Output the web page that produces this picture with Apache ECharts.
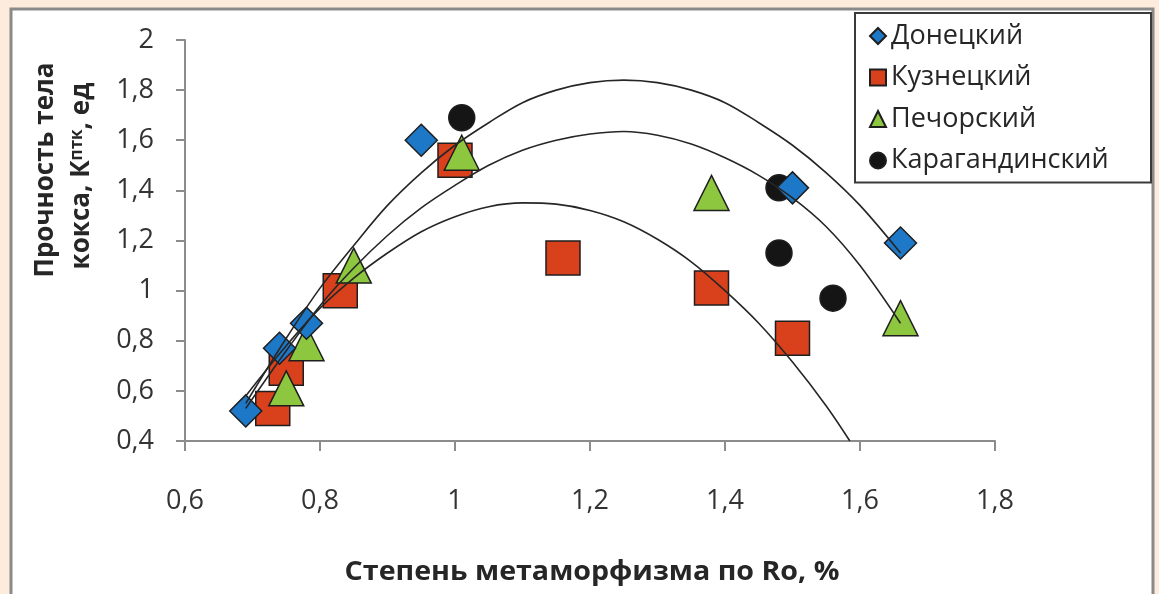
<!DOCTYPE html>
<html>
<head>
<meta charset="utf-8">
<script src="https://cdn.jsdelivr.net/npm/echarts@6/dist/echarts.min.js"></script>
<style>
  html, body { margin: 0; padding: 0; background: #fdecdc; }
  #chart { width: 1159px; height: 594px; }
</style>
</head>
<body>
<div id="chart"></div>
<script>
// --- data ---
const seriesNames = ['Донецкий', 'Кузнецкий', 'Печорский', 'Карагандинский'];

const donX = [0.69, 0.74, 0.78, 0.95, 1.50, 1.66];
const donY = [0.52, 0.77, 0.87, 1.60, 1.41, 1.19];

const kuzX = [0.73, 0.75, 0.83, 1.00, 1.16, 1.38, 1.50];
const kuzY = [0.53, 0.69, 1.00, 1.52, 1.13, 1.01, 0.81];

const pecX = [0.75, 0.78, 0.85, 1.01, 1.38, 1.66];
const pecY = [0.61, 0.79, 1.10, 1.55, 1.39, 0.89];

const karX = [1.01, 1.48, 1.48, 1.56];
const karY = [1.69, 1.41, 1.15, 0.97];

// trend curves
const trendX = [0.69, 0.75, 0.80, 0.85, 0.90, 0.95, 1.00, 1.05, 1.10, 1.15, 1.20, 1.25, 1.30, 1.35, 1.40, 1.45, 1.50, 1.55, 1.60, 1.66];
const trendTopY = [0.55, 0.81, 1.01, 1.18, 1.34, 1.47, 1.58, 1.67, 1.75, 1.80, 1.83, 1.84, 1.83, 1.80, 1.75, 1.67, 1.58, 1.47, 1.34, 1.15];
const trendMidY = [0.53, 0.76, 0.94, 1.09, 1.22, 1.33, 1.42, 1.50, 1.56, 1.60, 1.625, 1.635, 1.62, 1.585, 1.53, 1.46, 1.37, 1.255, 1.10, 0.87];
const trendBotX = [0.69, 0.75, 0.80, 0.85, 0.90, 0.95, 1.00, 1.05, 1.10, 1.15, 1.20, 1.25, 1.30, 1.35, 1.40, 1.45, 1.50, 1.55, 1.585];
const trendBotY = [0.58, 0.78, 0.93, 1.05, 1.15, 1.235, 1.295, 1.335, 1.35, 1.345, 1.32, 1.275, 1.205, 1.115, 1.00, 0.87, 0.715, 0.54, 0.40];

const xTicks = [0.6, 0.8, 1.0, 1.2, 1.4, 1.6, 1.8];
const yTicks = [0.4, 0.6, 0.8, 1.0, 1.2, 1.4, 1.6, 1.8, 2.0];

const xTitle = 'Степень метаморфизма по Ro, %';
const yTitle1 = 'Прочность тела';
const yTitle2 = 'кокса, К{s|птк}, ед';

// --- helpers ---
const zip = (xs, ys) => xs.map((x, i) => [x, ys[i]]);
const fmt = v => String(+Number(v).toFixed(1)).replace('.', ',');
const FONT = '"Open Sans", "Noto Sans", sans-serif';

const chart = echarts.init(document.getElementById('chart'), null, { renderer: 'canvas' });

const markerBorder = { borderColor: '#1e1e1e', borderWidth: 1.5, opacity: 1 };

const trendStyle = {
  type: 'line', smooth: 0.35, showSymbol: false, symbol: 'none',
  lineStyle: { color: '#262626', width: 1.6 }, z: 5, silent: true
};

chart.setOption({
  animation: false,
  backgroundColor: '#fdecdc',
  graphic: [
    { type: 'rect', z: -10, shape: { x: 11, y: 9, width: 1142, height: 600 },
      style: { fill: '#ffffff', stroke: '#8a8a8a', lineWidth: 3 } },
    { type: 'text', z: 10, x: 592, y: 573, scaleX: 1.1,
      style: { text: xTitle, font: 'bold 26px ' + FONT, fill: '#262626', align: 'center', verticalAlign: 'middle' } },
    { type: 'text', z: 10, x: 46, y: 170, rotation: Math.PI / 2,
      style: { text: yTitle1, font: 'bold 26px ' + FONT, fill: '#262626', align: 'center', verticalAlign: 'middle' } },
    { type: 'text', z: 10, x: 82, y: 176, rotation: Math.PI / 2,
      style: { text: yTitle2, font: 'bold 26px ' + FONT, fill: '#262626', align: 'center', verticalAlign: 'middle',
        rich: { s: { fontSize: 17, fontWeight: 'bold', fontFamily: FONT, verticalAlign: 'top', lineHeight: 17, fill: '#262626' } } } }
  ],
  grid: { left: 185, right: 164, top: 40, bottom: 153, containLabel: false },
  legend: {
    data: seriesNames,
    orient: 'vertical',
    left: 855, top: 13,
    padding: [8, 8, 7, 14],
    itemWidth: 16, itemHeight: 16, itemGap: 11.5,
    backgroundColor: '#ffffff',
    borderColor: '#3a3a3a', borderWidth: 2,
    textStyle: { fontFamily: FONT, fontSize: 27, color: '#262626', lineHeight: 30, width: 252 },
    z: 20
  },
  xAxis: {
    type: 'value', min: 0.6, max: 1.8, interval: 0.2,
    axisLine: { show: true, lineStyle: { color: '#8c8c8c', width: 2 } },
    axisTick: { show: true, length: 10, lineStyle: { color: '#8c8c8c', width: 2 } },
    splitLine: { show: false },
    axisLabel: { formatter: fmt, fontFamily: FONT, fontSize: 27, color: '#333333', margin: 47 }
  },
  yAxis: {
    type: 'value', min: 0.4, max: 2, interval: 0.2,
    axisLine: { show: true, lineStyle: { color: '#8c8c8c', width: 2 } },
    axisTick: { show: true, length: 9, lineStyle: { color: '#8c8c8c', width: 2 } },
    splitLine: { show: false },
    axisLabel: { formatter: fmt, fontFamily: FONT, fontSize: 27, color: '#333333', margin: 31 }
  },
  series: [
    { name: seriesNames[1], type: 'scatter', symbol: 'rect', symbolSize: 34, z: 2,
      itemStyle: Object.assign({ color: '#d9401c' }, markerBorder), data: zip(kuzX, kuzY) },
    { name: seriesNames[3], type: 'scatter', symbol: 'circle', symbolSize: 26, z: 2,
      itemStyle: Object.assign({ color: '#151515' }, markerBorder), data: zip(karX, karY) },
    { name: seriesNames[2], type: 'scatter', symbol: 'triangle', symbolSize: 35, z: 2,
      itemStyle: Object.assign({ color: '#8dc63f' }, markerBorder), data: zip(pecX, pecY) },
    { name: seriesNames[0], type: 'scatter', symbol: 'diamond', symbolSize: 32, z: 2,
      itemStyle: Object.assign({ color: '#1e78c8' }, markerBorder), data: zip(donX, donY) },
    Object.assign({ name: 'trend-top', data: zip(trendX, trendTopY) }, trendStyle),
    Object.assign({ name: 'trend-mid', data: zip(trendX, trendMidY) }, trendStyle),
    Object.assign({ name: 'trend-bot', data: zip(trendBotX, trendBotY) }, trendStyle)
  ]
});
</script>
</body>
</html>
